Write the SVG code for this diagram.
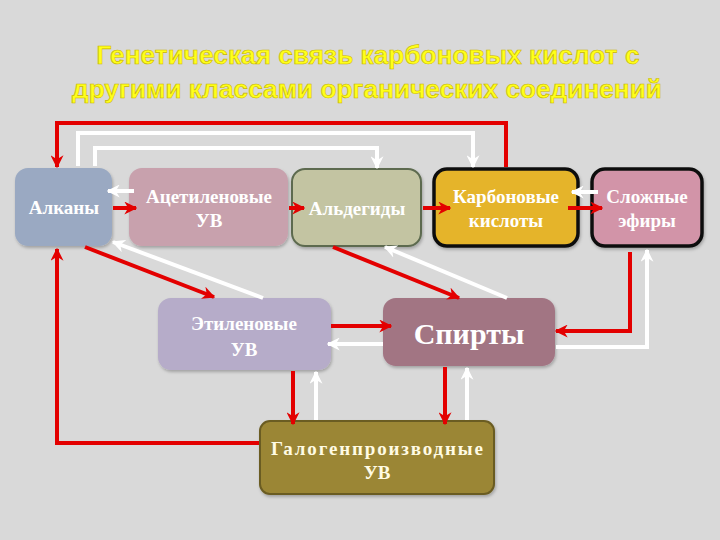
<svg xmlns="http://www.w3.org/2000/svg" width="720" height="540" viewBox="0 0 720 540">
<defs>
<marker id="ar" viewBox="0 0 10 10" refX="9" refY="5" markerWidth="13" markerHeight="13" markerUnits="userSpaceOnUse" orient="auto"><path d="M0,0 L10,5 L0,10 L3,5 Z" fill="#e30000"/></marker>
<marker id="aw" viewBox="0 0 10 10" refX="9" refY="5" markerWidth="13" markerHeight="13" markerUnits="userSpaceOnUse" orient="auto"><path d="M0,0 L10,5 L0,10 L3,5 Z" fill="#ffffff"/></marker>
<filter id="sh" x="-10%" y="-10%" width="120%" height="130%"><feDropShadow dx="1" dy="2" stdDeviation="1.5" flood-color="#000" flood-opacity="0.25"/></filter>
</defs>
<style>
.t{font-family:"Liberation Serif","DejaVu Serif",serif;font-weight:bold;fill:#ffffff;text-anchor:middle;font-size:19px}
.title{font-family:"Liberation Sans",Arial,sans-serif;font-weight:bold;font-size:25px;fill:#ffff1a;stroke:#c8b400;stroke-width:0.6;text-anchor:middle}
.r{fill:none;stroke:#e30000;stroke-width:4}
.w{fill:none;stroke:#ffffff;stroke-width:4}
</style>
<rect width="720" height="540" fill="#d9d9d9"/>
<g id="title">
<text class="title" x="368" y="64" textLength="543" lengthAdjust="spacingAndGlyphs">Генетическая связь карбоновых кислот с</text>
<text class="title" x="367" y="98" textLength="590" lengthAdjust="spacingAndGlyphs">другими классами органических соединений</text>
</g>
<g id="alkany">
<rect x="15" y="168" width="97" height="78" rx="13" fill="#9aa9c2" filter="url(#sh)"/>
<text class="t" x="64" y="214">Алканы</text>
</g>
<g id="acetylene">
<rect x="129" y="168" width="159" height="78" rx="13" fill="#c8a1ad" filter="url(#sh)"/>
<text class="t" x="209" y="203">Ацетиленовые</text>
<text class="t" x="209" y="227">УВ</text>
</g>
<g id="aldehydes">
<rect x="292" y="169" width="129" height="77" rx="13" fill="#c3c4a2" stroke="#5d6b4f" stroke-width="2" filter="url(#sh)"/>
<text class="t" x="357" y="215">Альдегиды</text>
</g>
<g id="acids">
<rect x="434" y="169" width="144" height="77" rx="13" fill="#e5b42a" stroke="#111" stroke-width="3.5" filter="url(#sh)"/>
<text class="t" x="506" y="203">Карбоновые</text>
<text class="t" x="506" y="227">кислоты</text>
</g>
<g id="esters">
<rect x="592" y="169" width="110" height="77" rx="13" fill="#d294a8" stroke="#111" stroke-width="3.5" filter="url(#sh)"/>
<text class="t" x="647" y="203">Сложные</text>
<text class="t" x="647" y="227">эфиры</text>
</g>
<g id="ethylene">
<rect x="158" y="298" width="173" height="72" rx="13" fill="#b6acc9" filter="url(#sh)"/>
<text class="t" x="244" y="330">Этиленовые</text>
<text class="t" x="244" y="356">УВ</text>
</g>
<g id="alcohols">
<rect x="383" y="298" width="172" height="68" rx="13" fill="#a27483" filter="url(#sh)"/>
<text class="t" x="469" y="344" style="font-size:30px">Спирты</text>
</g>
<g id="halogen">
<rect x="260" y="421" width="234" height="73" rx="10" fill="#9b8636" stroke="#6b5c22" stroke-width="2" filter="url(#sh)"/>
<text class="t" x="377" y="455" style="fill:#fffbe4" textLength="212" lengthAdjust="spacing">Галогенпроизводные</text>
<text class="t" x="377" y="479" style="fill:#fffbe4">УВ</text>
</g>
<g id="connectors">
<path class="w" d="M78,166 V133 H473 V167" marker-end="url(#aw)"/>
<path class="w" d="M95,166 V148 H377 V168" marker-end="url(#aw)"/>
<path class="r" d="M506,167 V123 H57 V167" marker-end="url(#ar)"/>
<path class="r" d="M113,208 H136" marker-end="url(#ar)"/>
<path class="r" d="M289,208 H304" marker-end="url(#ar)"/>
<path class="r" d="M423,208 H450" marker-end="url(#ar)"/>
<path class="r" d="M568,208 H602" marker-end="url(#ar)"/>
<path class="w" d="M134,191 H108" marker-end="url(#aw)"/>
<path class="w" d="M598,192 H572" marker-end="url(#aw)"/>
<path class="r" d="M85,247 L214,297" marker-end="url(#ar)"/>
<path class="w" d="M263,298 L113,242" marker-end="url(#aw)"/>
<path class="r" d="M333,247 L459,298" marker-end="url(#ar)"/>
<path class="w" d="M507,298 L385,247" marker-end="url(#aw)"/>
<path class="r" d="M630,252 V331 H556" marker-end="url(#ar)"/>
<path class="w" d="M556,347 H647 V250" marker-end="url(#aw)"/>
<path class="r" d="M331,326 H391" marker-end="url(#ar)"/>
<path class="w" d="M383,344 H328" marker-end="url(#aw)"/>
<path class="r" d="M293,371 V424" marker-end="url(#ar)"/>
<path class="w" d="M316,420 V372" marker-end="url(#aw)"/>
<path class="r" d="M445,367 V424" marker-end="url(#ar)"/>
<path class="w" d="M467,420 V368" marker-end="url(#aw)"/>
<path class="r" d="M259,443 H57 V249" marker-end="url(#ar)"/>
</g>
</svg>
